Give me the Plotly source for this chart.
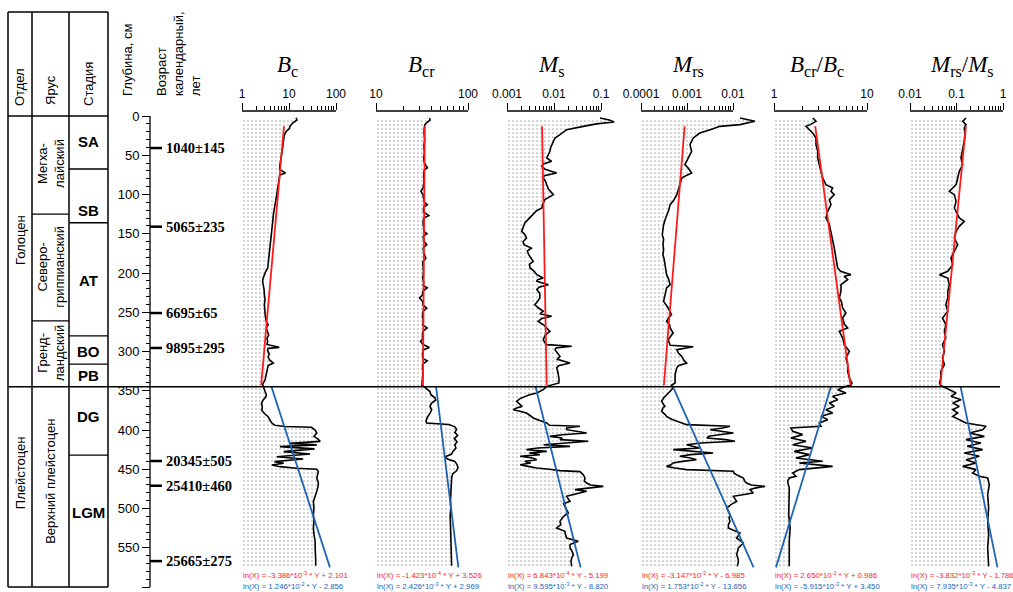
import math
import plotly.graph_objects as go

W, H = 1013, 592

# ---------------- data (depth cm, value) ----------------
BC = [(2.5,14.1),(5,14.8),(9,12.0),(13,10.5),(16,10.2),(20,8.6),(25,7.9),(28,7.7),(35,7.5),(41,7.3),(47,7.0),(53,6.7),(58,6.5),(63,6.4),(68,6.3),(72.5,8.4),(75,6.4),(79,6.2),(85,6.0),(92,5.74),(100,5.5),(109,5.12),(115,4.95),(120,4.8),(126,4.64),(132,4.55),(138,4.45),(143,4.35),(150,4.25),(156,4.2),(160,4.14),(168,4.0),(177,3.82),(185,3.65),(194,3.52),(198,3.2),(202,2.99),(207,2.8),(211,2.75),(216,2.85),(221,2.95),(228,2.99),(234,3.1),(240,2.99),(246,3.0),(252,3.1),(258,3.2),(262,3.3),(266,3.6),(270,3.3),(275,3.5),(279,3.7),(283,3.4),(287,3.5),(291,3.4),(293,4.4),(294.7,6.2),(296,3.6),(299,3.5),(303,3.8),(307,3.6),(311,3.9),(314.7,4.64),(318,3.6),(322,3.5),(326,3.4),(330,3.35),(336,3.1),(342,2.75),
      (347,2.9),(351,3.1),(355,3.3),(358,3.2),(362,2.8),(366,2.6),(370,2.7),(375,2.65),(379,3.0),(383,3.6),(387,3.9),(391,4.3),(394,5.0),(395.5,8.2),(396.5,30),(400,36),(404,39),(408,34),(412,42),(414.5,46),(417,10.5),(419,39),(421.2,6.4),(424,35),(427.5,7.7),(430.5,28),(434,5.5),(437,20),(440.3,4.9),(442.4,7.7),(444.5,4.3),(446.7,6.4),(448.8,14.6),(450,39),(453,42),(458,40),(462,39),(466,42),(470,42),(476,40),(483,36),(491,33),(500,34),(508,33),(516,34),(525,33),(533,34),(542,36),(550,36),(559,37),(566,37),(573,37)]

BCR = [(2.5,38.0),(5,38.8),(8,36.0),(11,34.0),(15,33.5),(22,33.3),(30,33.8),(38,33.2),(46,33.6),(54,33.0),(60,33.6),(63,34.6),(66,36.2),(69,33.4),(76,33.0),(84,33.4),(91,32.6),(96,30.8),(100,32.4),(106,33.0),(110,33.6),(113,36.2),(116,33.0),(122,32.8),(127,37.5),(130,33.0),(136,32.4),(142,33.0),(147,33.2),(150,35.8),(153,32.6),(159,33.0),(164,35.6),(168,32.6),(174,33.0),(181,34.8),(186,32.2),(193,32.6),(200,32.8),(206,32.2),(212,33.0),(216,32.6),(219,36.0),(223,32.4),(228,32.0),(232,29.8),(236,32.0),(241,32.6),(245,35.6),(249,32.4),(255,32.0),(262,32.8),(266,32.2),(270,36.0),(274,32.4),(279,32.0),(284,32.2),(287,30.5),(291,32.4),(295,38.0),(298,32.6),(304,32.0),(309,32.4),(312,36.0),(316,32.2),(322,32.0),(328,32.6),(334,32.0),(340,31.6),(343,31.6),
       (345,33.5),(348,35.5),(351,38.6),(355,39.5),(359,43.8),(362,44.5),(366,40.0),(370,38.6),(374,40.3),(378,39.0),(383,36.5),(388,35.0),(391,35.5),(393,62.0),(396,72.0),(399,75.3),(403,72.0),(407,77.0),(411,71.0),(415,76.0),(419,72.0),(423,74.0),(427,69.0),(431,66.0),(434,56.2),(437,60.0),(440,72.0),(444,76.0),(448,78.0),(452,75.0),(456,68.0),(461,66.4),(470,65.5),(480,65.0),(490,64.5),(500,65.0),(510,64.0),(520,64.5),(530,65.0),(540,65.5),(550,66.0),(560,66.4),(573,66.4)]

MS = [(2.5,0.095),(5,0.15),(7.6,0.19),(10,0.08),(13.2,0.042),(17.4,0.0186),(23.8,0.0134),(28,0.0105),(32.3,0.0097),(40,0.0085),(45,0.0082),(50,0.0075),(53.5,0.0070),(57.7,0.0089),(61,0.0060),(64.1,0.0055),(68,0.0065),(72.6,0.0114),(76,0.0062),(79,0.0059),(83,0.0066),(87.5,0.0070),(93,0.0076),(100.2,0.0097),(106.6,0.0064),(112,0.0058),(117.2,0.0055),(121,0.0042),(125.7,0.0036),(131,0.0029),(136.3,0.0024),(141,0.0022),(147,0.00205),(151,0.0024),(155.4,0.0026),(160,0.0022),(163.9,0.0023),(168.2,0.0033),(172,0.0027),(176.6,0.0029),(181,0.0033),(185.1,0.0036),(189,0.0030),(193.6,0.0031),(198,0.0038),(202.1,0.0043),(206.4,0.0059),(208.5,0.0045),(210.6,0.0043),(214.9,0.0076),(218,0.0048),(221.2,0.0043),(226,0.0050),(231.8,0.0050),(236,0.0045),(240.3,0.0039),(244.6,0.0047),(248.8,0.0059),(252,0.0050),(255.2,0.0089),(258,0.0055),(261.6,0.0046),(266,0.0060),(270,0.0070),(274.3,0.0082),(279,0.0065),(285,0.0059),(289,0.0064),(291.3,0.0070),(293.4,0.0238),(295.5,0.0110),(297.7,0.0105),(302,0.0120),(306.2,0.0134),(310,0.0118),(314.7,0.0219),(318,0.0125),(321,0.0114),(325,0.0120),(329.5,0.0124),(335,0.0128),(340.1,0.0127),(343,0.0080),
      (344.4,0.0070),(348.6,0.0059),(352.9,0.0043),(355,0.0030),(357.1,0.0024),(360,0.0019),(363.5,0.0016),(366.5,0.0018),(369.9,0.0021),(372,0.0016),(374.1,0.00136),(376,0.0019),(378.3,0.0026),(381.5,0.0031),(384.7,0.0036),(388,0.0050),(391.1,0.0070),(394,0.0080),(395.3,0.0357),(397.5,0.0186),(399.6,0.0186),(401.7,0.030),(403.8,0.0495),(406,0.0150),(408.1,0.0082),(410.2,0.0150),(412.3,0.0134),(414.4,0.0537),(416.6,0.0150),(418.7,0.0060),(420.8,0.0220),(422.9,0.0045),(425,0.0026),(427.2,0.0070),(429.3,0.0030),(431.4,0.0050),(433.5,0.0019),(435.7,0.0035),(437.8,0.0043),(440,0.0024),(442,0.0032),(444.2,0.0019),(446.3,0.0028),(448.4,0.0043),(450,0.0080),(451.8,0.0134),(453,0.0357),(456.9,0.0420),(461.2,0.0457),(465,0.0440),(467.5,0.0495),(470,0.060),(471.8,0.112),(474,0.050),(476,0.028),(478.1,0.0495),(481,0.030),(484.5,0.0186),(487.5,0.0200),(490.9,0.0219),(494,0.0160),(497.2,0.0171),(501,0.0190),(505.7,0.0202),(510,0.0160),(516.3,0.0134),(520.6,0.0140),(524.8,0.0114),(529.1,0.0171),(533.3,0.0175),(537.6,0.0186),(541.8,0.0329),(546,0.0220),(550.3,0.0219),(554,0.0240),(558.8,0.0258),(563,0.0238),(567.3,0.0230),(573.7,0.0238)]

MRS = [(2.5,0.0142),(6.8,0.030),(11,0.0142),(13.2,0.0052),(17.4,0.0032),(21.7,0.0019),(28,0.00137),(36.5,0.00116),(45,0.00126),(53.5,0.00107),(62,0.00090),(66,0.00105),(72.6,0.00126),(76,0.00095),(79,0.00077),(87.5,0.00070),(94,0.00065),(100.2,0.00060),(107,0.00052),(113,0.00043),(120,0.00040),(125.7,0.00036),(131,0.00034),(138.4,0.00031),(143,0.00030),(151.2,0.00029),(157,0.00031),(163.9,0.00030),(170,0.00031),(176.6,0.00030),(183,0.00032),(189.4,0.00033),(196,0.00034),(202.1,0.00036),(208,0.00040),(214.9,0.00043),(219.1,0.00036),(227.6,0.00033),(236.1,0.00031),(244.6,0.00039),(253.1,0.00046),(257,0.00040),(261.6,0.00036),(266,0.00042),(270.1,0.00043),(276.4,0.00050),(285,0.00039),(290,0.00042),(292.1,0.00043),(293.9,0.00137),(297.7,0.00060),(302,0.00065),(306.2,0.00077),(311,0.00085),(314.7,0.00098),(318,0.00065),(321,0.00060),(329.5,0.00055),(335,0.00055),(340.1,0.00055),(343,0.00046),
       (346.5,0.00050),(350.7,0.00043),(355,0.00036),(359.2,0.00031),(363.5,0.00028),(367,0.00031),(369.9,0.00033),(372,0.00030),(376.2,0.00028),(380,0.00033),(382.6,0.00036),(386,0.00045),(389,0.00060),(391,0.00075),(393.2,0.00098),(395.3,0.0086),(397.5,0.0060),(399.6,0.0032),(401.7,0.0060),(403.8,0.0102),(406,0.0050),(408,0.0030),(410.2,0.0027),(412.3,0.0070),(414.4,0.0110),(416.6,0.0020),(418.7,0.00098),(420.8,0.0015),(422.9,0.0019),(425,0.00050),(427,0.0015),(429.3,0.0037),(431.4,0.0012),(433.5,0.00070),(435.7,0.0012),(437.8,0.0016),(440,0.0008),(442,0.00050),(444.2,0.00045),(446.3,0.00036),(448.4,0.00055),(450.5,0.00098),(452.6,0.0102),(455,0.0105),(456.9,0.0120),(461.2,0.0168),(465,0.0180),(467.5,0.0198),(470,0.0250),(471.8,0.0496),(474,0.0300),(476,0.0234),(480.3,0.0277),(484.5,0.0102),(490.9,0.0120),(495,0.0090),(499.4,0.0073),(504,0.0080),(507.9,0.0086),(512,0.0082),(516.3,0.0086),(520,0.0080),(524.8,0.0079),(531.2,0.0142),(537.6,0.0120),(543.9,0.0168),(550.3,0.0131),(555,0.0125),(558.8,0.0120),(563,0.0128),(567.3,0.0131),(573.7,0.0124)]

BCR_BC = [(2.5,2.61),(6.8,2.83),(11,2.45),(13.2,2.21),(17.4,2.40),(21.7,2.61),(28,2.83),(36.5,2.83),(45,2.95),(53.5,2.95),(62,3.07),(70.5,3.20),(79,3.34),(87.5,3.62),(91.7,4.27),(96,4.10),(100.2,4.45),(106.6,3.94),(113,4.10),(121.4,3.78),(129.9,3.62),(138.4,3.94),(147,4.10),(157.5,4.27),(168.2,4.45),(180.9,4.64),(193.6,4.84),(197.9,5.2),(202.1,6.73),(204.2,5.70),(208.5,6.20),(214.9,5.25),(223.4,5.25),(231.8,5.04),(236,5.3),(244.6,5.47),(250.9,5.94),(257.3,5.47),(265,5.7),(270.1,6.20),(274.3,5.04),(282.8,5.47),(291.3,5.70),(299.8,6.46),(308.3,5.94),(316.8,6.20),(325.3,6.20),(333.8,6.46),(340.1,6.90),(343,6.7),
          (344.4,5.94),(348.6,4.84),(352.9,5.94),(357.1,4.27),(361.4,4.84),(365.6,3.94),(369.9,4.45),(374.1,3.62),(378.3,4.27),(382.6,3.20),(386.8,3.78),(391.1,3.07),(395.3,3.20),(397.5,1.52),(401.7,1.59),(405.9,2.03),(410.2,1.52),(414.4,2.21),(418.7,1.59),(422.9,2.61),(427.2,1.65),(431.4,2.40),(435.7,1.72),(439.9,3.34),(442,1.87),(446.3,4.27),(450.5,1.87),(454.8,1.59),(459,1.72),(461.2,1.46),(465.4,1.40),(473.9,1.46),(490.9,1.46),(507.9,1.44),(524.8,1.49),(541.8,1.46),(558.8,1.46),(573.7,1.46)]

MRS_MS = [(2.5,0.160),(6.8,0.136),(11,0.160),(15.3,0.147),(23.8,0.155),(32.3,0.147),(45,0.136),(53.5,0.125),(62,0.136),(70.5,0.115),(79,0.106),(87.5,0.098),(91.7,0.083),(96,0.070),(100.2,0.090),(108.7,0.098),(117.2,0.090),(125.7,0.106),(129.9,0.115),(134.2,0.147),(140.6,0.115),(147,0.098),(155.4,0.090),(163.9,0.106),(172.4,0.090),(180.9,0.076),(189.4,0.083),(197.9,0.065),(202.1,0.043),(206.4,0.065),(214.9,0.070),(223.4,0.065),(231.8,0.065),(240.3,0.059),(248.8,0.065),(257.3,0.050),(265.8,0.059),(274.3,0.055),(282.8,0.059),(291.3,0.050),(299.8,0.055),(308.3,0.050),(316.8,0.055),(325.3,0.046),(333.8,0.046),(340.1,0.043),(343,0.045),
          (344.4,0.050),(348.6,0.070),(352.9,0.098),(357.1,0.076),(361.4,0.125),(365.6,0.083),(369.9,0.115),(374.1,0.083),(378.3,0.106),(382.6,0.083),(386.8,0.115),(391.1,0.160),(395.3,0.431),(399.6,0.365),(403.8,0.189),(408.1,0.397),(412.3,0.160),(416.6,0.336),(420.8,0.170),(425,0.365),(429.3,0.147),(433.5,0.310),(437.8,0.160),(442,0.263),(446.3,0.136),(450.5,0.263),(454.8,0.223),(459,0.310),(461.2,0.468),(469.6,0.508),(482.4,0.468),(499.4,0.492),(516.3,0.468),(533.3,0.492),(550.3,0.468),(573.7,0.492)]

# regression coefficients ln(X) = a*Y + b : (Holocene red, Pleistocene blue)
REG = {
    "Bc":    ((-3.386e-3, 2.101), (1.246e-2, -2.856)),
    "Bcr":   ((-1.423e-4, 3.526), (2.426e-3, 2.969)),
    "Ms":    ((6.843e-4, -5.199), (9.595e-3, -8.820)),
    "Mrs":   ((-3.147e-3, -6.985), (1.753e-2, -13.656)),
    "BcrBc": ((2.650e-3, 0.986), (-5.915e-3, 3.450)),
    "MrsMs": ((-3.832e-3, -1.786), (7.935e-3, -4.837)),
}
EQ_TEXT = {
    "Bc":    ("ln(X) = -3.386*10<sup>-3</sup> * Y + 2.101", "ln(X) = 1.246*10<sup>-2</sup> * Y - 2.856"),
    "Bcr":   ("ln(X) = -1.423*10<sup>-4</sup> * Y + 3.526", "ln(X) = 2.426*10<sup>-3</sup> * Y + 2.969"),
    "Ms":    ("ln(X) = 6.843*10<sup>-4</sup> * Y - 5.199", "ln(X) = 9.595*10<sup>-3</sup> * Y - 8.820"),
    "Mrs":   ("ln(X) = -3.147*10<sup>-3</sup> * Y - 6.985", "ln(X) = 1.753*10<sup>-2</sup> * Y - 13.656"),
    "BcrBc": ("ln(X) = 2.650*10<sup>-3</sup> * Y + 0.986", "ln(X) = -5.915*10<sup>-3</sup> * Y + 3.450"),
    "MrsMs": ("ln(X) = -3.832*10<sup>-3</sup> * Y - 1.786", "ln(X) = 7.935*10<sup>-3</sup> * Y - 4.837"),
}
HOLO_SPAN = (13, 343)
PLEI_SPAN = (345, 575)
BOUNDARY = 345

AGE_DEPTHS = [40.8, 141, 251, 295.5, 439.5, 471, 567]
AGE_LABELS = ["1040±145", "5065±235", "6695±65", "9895±295", "20345±505", "25410±460", "25665±275"]

STAGE_NAMES = ["SA", "SB", "AT", "BO", "PB", "DG", "LGM"]
STAGE_LABEL_DEPTH = [33, 120, 209, 300, 330, 383, 505]
STAGE_BOUNDS = [67.5, 136, 280, 316, 432]
YARUS_NAMES = ["Мегха-<br>лайский", "Северо-<br>гриппианский", "Гренд-<br>ландский", "Верхний плейстоцен"]
YARUS_LABEL_DEPTH = [61, 192, 302, 466]
YARUS_BOUNDS = [125, 261]
OTDEL_NAMES = ["Голоцен", "Плейстоцен"]
OTDEL_LABEL_DEPTH = [158, 455]

# ---------------- geometry helpers ----------------
def px(x):
    return x / W

def py(y):
    return 1 - y / H

Y_TOP_PX, Y0_PX, Y600_PX = 111, 116, 587
cm_px = (Y600_PX - Y0_PX) / 600.0
y_top_val = -(Y0_PX - Y_TOP_PX) / cm_px

panels = [
    dict(key="Bc", data=BC, lo=1, hi=100, px0=242, dec=47, px1=338, ticks=[1, 10, 100], labels=["1", "10", "100"],
         title="<i>B</i><sub>c</sub>", tx=287),
    dict(key="Bcr", data=BCR, lo=10, hi=100, px0=376, dec=92, px1=470, ticks=[10, 100], labels=["10", "100"],
         title="<i>B</i><sub>cr</sub>", tx=421),
    dict(key="Ms", data=MS, lo=0.001, hi=0.1, px0=507, dec=47, px1=622, ticks=[0.001, 0.01, 0.1], labels=["0.001", "0.01", "0.1"],
         title="<i>M</i><sub>s</sub>", tx=551),
    dict(key="Mrs", data=MRS, lo=0.0001, hi=0.01, px0=641, dec=46, px1=776, ticks=[0.0001, 0.001, 0.01], labels=["0.0001", "0.001", "0.01"],
         title="<i>M</i><sub>rs</sub>", tx=688),
    dict(key="BcrBc", data=BCR_BC, lo=1, hi=10, px0=774, dec=93, px1=868, ticks=[1, 10], labels=["1", "10"],
         title="<i>B</i><sub>cr</sub>/<i>B</i><sub>c</sub>", tx=817),
    dict(key="MrsMs", data=MRS_MS, lo=0.01, hi=1, px0=910, dec=46.5, px1=1005, ticks=[0.01, 0.1, 1], labels=["0.01", "0.1", "1"],
         title="<i>M</i><sub>rs</sub>/<i>M</i><sub>s</sub>", tx=962),
]

fig = go.Figure()
shapes = []
annotations = []
layout_axes = {}

SANS = "Liberation Sans, Arial, sans-serif"
SERIF = "Liberation Serif, Times New Roman, serif"
RED = "#ff1a1a"
BLUE = "#1f63b5"

for i, p in enumerate(panels, start=1):
    xname = "x" if i == 1 else f"x{i}"
    axname = "xaxis" if i == 1 else f"xaxis{i}"
    lg0 = math.log10(p["lo"])
    rng = [lg0, lg0 + (p["px1"] - p["px0"]) / p["dec"]]
    minor_vals = []
    d = p["lo"]
    while d < p["hi"] * 0.999:
        for m in range(2, 10):
            minor_vals.append(d * m)
        d *= 10
    layout_axes[axname] = dict(
        type="log", domain=[px(p["px0"]), px(p["px1"])], range=rng, anchor="y", side="top",
        automargin=False, showline=False, showgrid=False, zeroline=False,
        tickmode="array", tickvals=p["ticks"], ticktext=p["labels"],
        ticks="outside", ticklen=7, tickwidth=1.3, tickcolor="black",
        tickfont=dict(family=SANS, size=12, color="black"),
        minor=dict(tickmode="array", tickvals=minor_vals, ticks="outside", ticklen=4, tickwidth=1.1,
                   tickcolor="black", showgrid=False),
    )
    depths = [t[0] for t in p["data"]]
    vals = [t[1] for t in p["data"]]
    # stippled fill
    fig.add_trace(go.Scatter(
        x=[p["lo"]] + vals + [p["lo"]], y=[depths[0]] + depths + [depths[-1] + 1.5],
        xaxis=xname, yaxis="y", mode="lines", line=dict(width=0, color="rgba(0,0,0,0)"),
        fill="toself", fillcolor="white",
        fillpattern=dict(shape=".", fgcolor="#555555", bgcolor="white", size=4, solidity=0.15),
        hoverinfo="skip", showlegend=False))
    # curve
    fig.add_trace(go.Scatter(x=vals, y=depths, xaxis=xname, yaxis="y", mode="lines",
                             line=dict(color="black", width=1.6), showlegend=False))
    # regression lines
    (ar, br), (ab, bb) = REG[p["key"]]
    yr = list(HOLO_SPAN)
    yb = list(PLEI_SPAN)
    fig.add_trace(go.Scatter(x=[math.exp(ar * y + br) for y in yr], y=yr, xaxis=xname, yaxis="y",
                             mode="lines", line=dict(color=RED, width=1.8), showlegend=False))
    fig.add_trace(go.Scatter(x=[math.exp(ab * y + bb) for y in yb], y=yb, xaxis=xname, yaxis="y",
                             mode="lines", line=dict(color=BLUE, width=1.8), showlegend=False))
    # axis line over labelled range
    shapes.append(dict(type="line", xref=xname, yref="paper", x0=p["lo"], x1=p["hi"],
                       y0=py(Y_TOP_PX), y1=py(Y_TOP_PX), line=dict(color="black", width=1.3)))
    # title
    annotations.append(dict(text=p["title"], x=px(p["tx"]), y=py(66), xref="paper", yref="paper",
                            showarrow=False, xanchor="center", yanchor="middle",
                            font=dict(family=SERIF, size=23, color="black")))
    # equations
    eq_r, eq_b = EQ_TEXT[p["key"]]
    annotations.append(dict(text=eq_r, x=px(p["px0"] - 1), y=py(575), xref="paper", yref="paper",
                            showarrow=False, xanchor="left", yanchor="middle",
                            font=dict(family=SANS, size=7.8, color=RED)))
    annotations.append(dict(text=eq_b, x=px(p["px0"] - 1), y=py(586), xref="paper", yref="paper",
                            showarrow=False, xanchor="left", yanchor="middle",
                            font=dict(family=SANS, size=7.8, color=BLUE)))

# depth axis
layout_axes["yaxis"] = dict(
    domain=[py(Y600_PX), py(Y_TOP_PX)], range=[600, y_top_val], anchor="free", position=px(150),
    automargin=False, showline=False, showgrid=False, zeroline=False,
    tickmode="array", tickvals=list(range(0, 601, 50)),
    ticks="outside", ticklen=8, tickwidth=1.3, tickcolor="black",
    tickfont=dict(family=SANS, size=13, color="black"),
    minor=dict(tickmode="linear", tick0=0, dtick=10, ticks="outside", ticklen=4, tickwidth=1.1,
               tickcolor="black", showgrid=False),
)
shapes.append(dict(type="line", xref="paper", yref="y", x0=px(150), x1=px(150), y0=0, y1=600,
                   line=dict(color="black", width=1.3)))

# age markers
for dep, lab in zip(AGE_DEPTHS, AGE_LABELS):
    shapes.append(dict(type="line", xref="paper", yref="y", x0=px(150), x1=px(162), y0=dep, y1=dep,
                       line=dict(color="black", width=2.5)))
    annotations.append(dict(text=f"<b>{lab}</b>", x=px(164), y=dep, xref="paper", yref="y",
                            showarrow=False, xanchor="left", yanchor="middle",
                            font=dict(family=SERIF, size=14.5, color="black")))

# boundary line Holocene / Pleistocene
shapes.append(dict(type="line", xref="paper", yref="y", x0=px(8), x1=px(1000), y0=BOUNDARY, y1=BOUNDARY,
                   line=dict(color="black", width=1.5)))

# stratigraphic table
TL, C1, C2, TR = 8, 32, 69, 108
TOP = 12
for xx in (TL, C1, C2, TR):
    shapes.append(dict(type="line", xref="paper", yref="paper", x0=px(xx), x1=px(xx), y0=py(TOP), y1=py(Y600_PX),
                       line=dict(color="black", width=1.5)))
for yy in (TOP, Y0_PX, Y600_PX):
    shapes.append(dict(type="line", xref="paper", yref="paper", x0=px(TL), x1=px(TR), y0=py(yy), y1=py(yy),
                       line=dict(color="black", width=1.5)))
for b in YARUS_BOUNDS:
    shapes.append(dict(type="line", xref="paper", yref="y", x0=px(C1), x1=px(C2), y0=b, y1=b,
                       line=dict(color="black", width=1.3)))
for b in STAGE_BOUNDS:
    shapes.append(dict(type="line", xref="paper", yref="y", x0=px(C2), x1=px(TR), y0=b, y1=b,
                       line=dict(color="black", width=1.3)))

def vtext(text, xpx, ypx=None, depth=None, size=13, align="center"):
    if depth is not None:
        yv, yref = depth, "y"
    else:
        yv, yref = py(ypx), "paper"
    annotations.append(dict(text=text, x=px(xpx), y=yv, xref="paper", yref=yref, textangle=-90,
                            showarrow=False, xanchor="center", yanchor="middle", align=align,
                            font=dict(family=SANS, size=size, color="black")))

vtext("Отдел", 20, ypx=87)
vtext("Ярус", 51, ypx=90)
vtext("Стадия", 88, ypx=84)
vtext("Глубина, см", 128, ypx=60)
vtext("Возраст<br>календарный,<br>лет", 178, ypx=54, align="left")
for name, dep in zip(OTDEL_NAMES, OTDEL_LABEL_DEPTH):
    vtext(name, 20, depth=dep)
for name, dep in zip(YARUS_NAMES, YARUS_LABEL_DEPTH):
    vtext(name, 51, depth=dep)
for name, dep in zip(STAGE_NAMES, STAGE_LABEL_DEPTH):
    annotations.append(dict(text=f"<b>{name}</b>", x=px(88), y=dep, xref="paper", yref="y",
                            showarrow=False, xanchor="center", yanchor="middle",
                            font=dict(family=SANS, size=15, color="black")))

fig.update_layout(
    width=W, height=H, autosize=False,
    margin=dict(l=0, r=0, t=0, b=0, pad=0, autoexpand=False),
    paper_bgcolor="white", plot_bgcolor="rgba(0,0,0,0)",
    showlegend=False, shapes=shapes, annotations=annotations,
    **layout_axes,
)

fig.write_html("out.html")
